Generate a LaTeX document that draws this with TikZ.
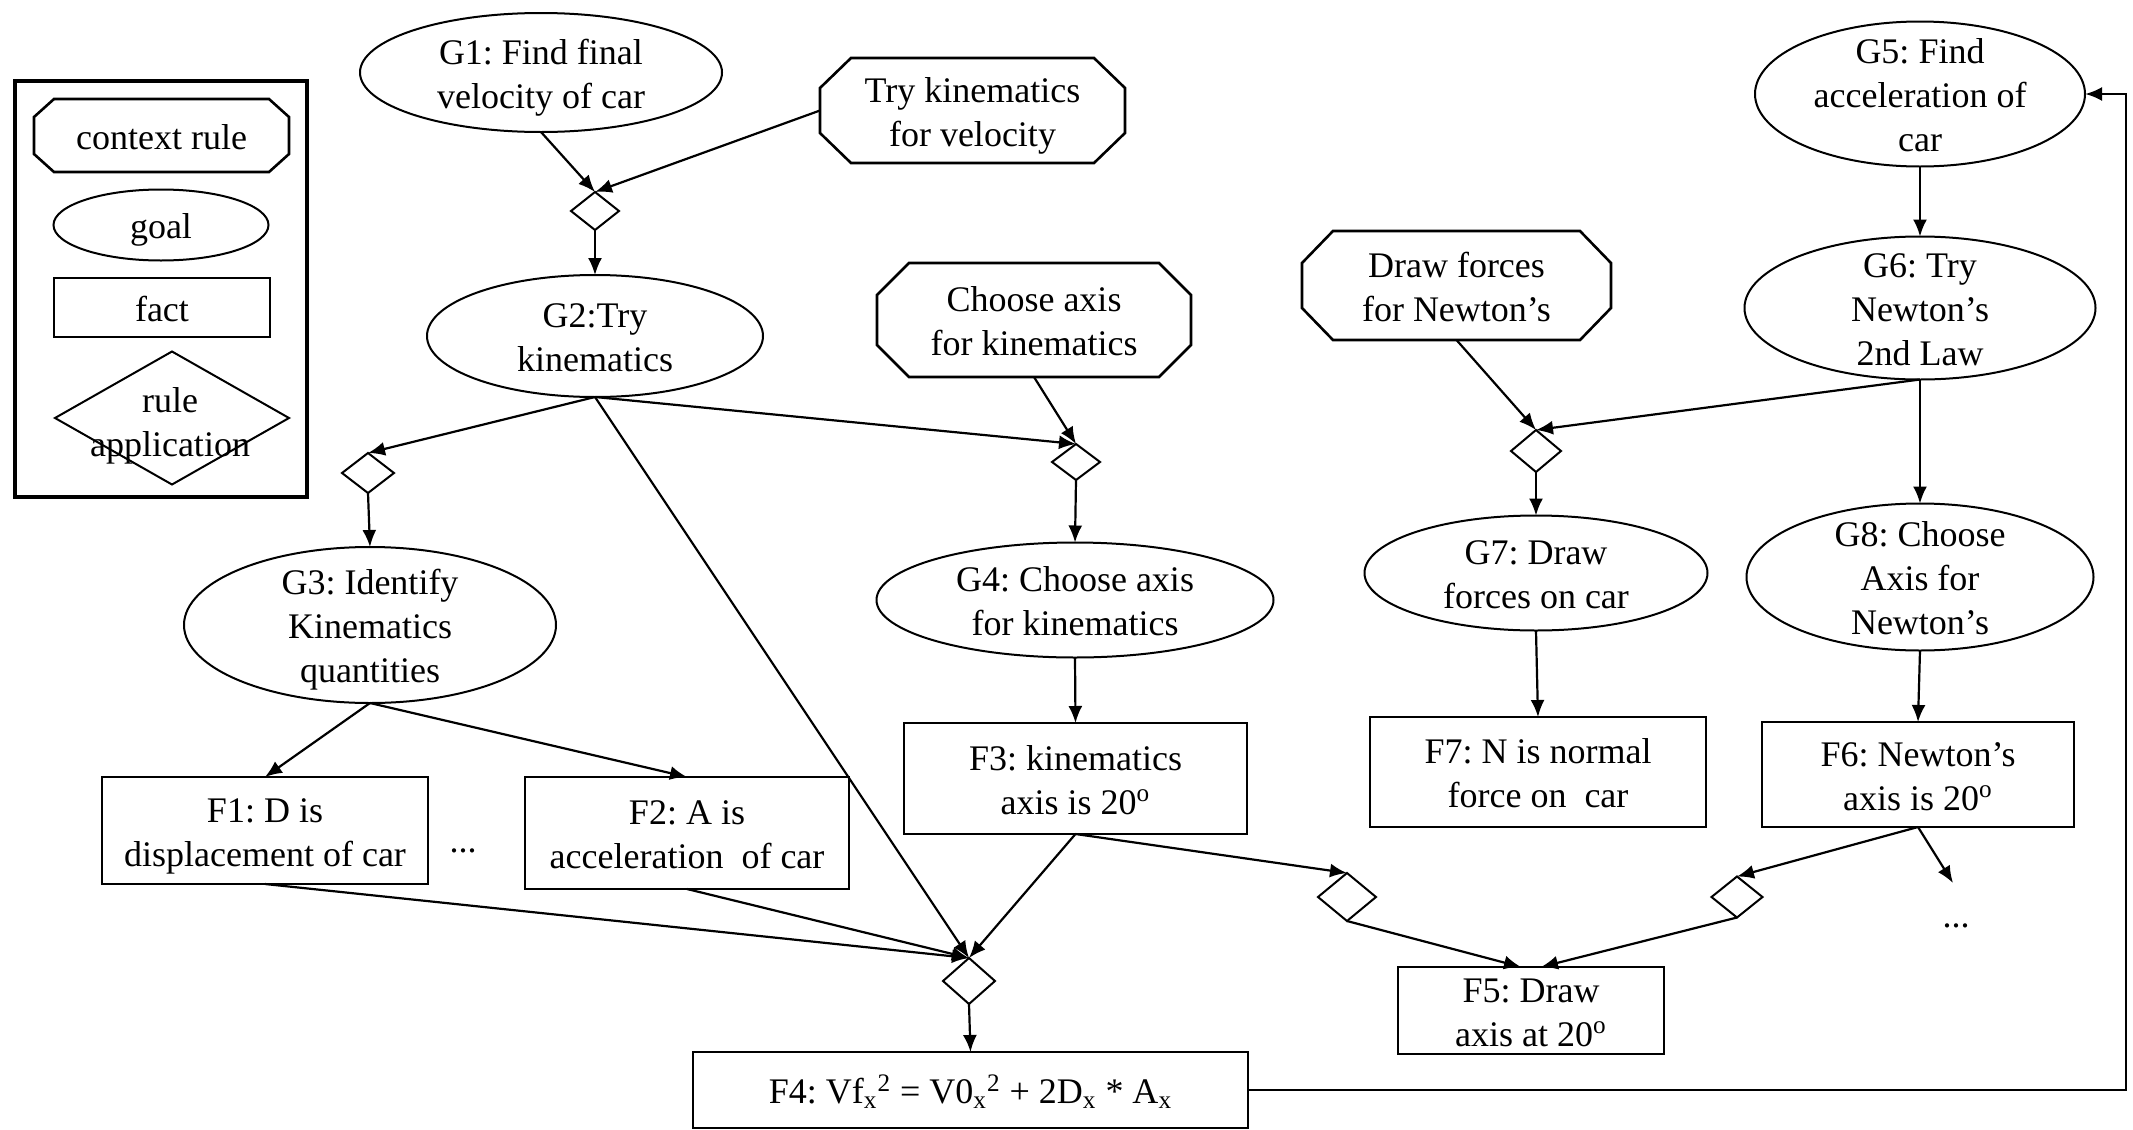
\documentclass[tikz,border=0pt]{standalone}
\usepackage{fontspec}
\setmainfont{Liberation Serif}
\usetikzlibrary{shapes.geometric,arrows.meta}
\newcommand\fz{\fontsize{18}{22}\selectfont\frenchspacing}
\newcommand\ctext[1]{\vbox to 0pt{\kern5pt\vss\hbox{\begin{tabular}{@{}c@{}}#1\end{tabular}}\vss}}
\newcommand\octo[3]{\draw[boxline] ([xshift=#2]#1.north west) -- ([xshift=-#2]#1.north east) -- ([yshift=-#3]#1.north east) -- ([yshift=#3]#1.south east) -- ([xshift=-#2]#1.south east) -- ([xshift=#2]#1.south west) -- ([yshift=#3]#1.south west) -- ([yshift=-#3]#1.north west) -- cycle;}
\begin{document}
\begin{tikzpicture}[x=0.5pt,y=-0.5pt,
  every node/.style={inner sep=0pt,outer sep=0pt,font=\fz},
  goal/.style={ellipse,draw,line width=1pt},
  fact/.style={rectangle,draw,line width=1.3pt},
  ctx/.style={rectangle},
  rapp/.style={diamond,draw,line width=1pt,minimum width=25pt,minimum height=20pt},
  conn/.style={line width=1.1pt,-{Latex[length=8.5pt,width=7pt]}},
  boxline/.style={line width=1.3pt}]
\useasboundingbox (0,0) rectangle (2133,1130);
% legend
\node[draw,line width=1.6pt,minimum width=146pt,minimum height=208pt] (leg) at (161,289) {};
\node[ctx,minimum width=127.5pt,minimum height=36.5pt] (legctx) at (161.5,135.5) {\ctext{context rule}};
\octo{legctx}{10pt}{9pt}
\node[goal,minimum width=107.5pt,minimum height=35.5pt] (leggoal) at (161,225) {\ctext{goal}};
\node[fact,minimum width=108pt,minimum height=29.5pt] (legfact) at (162,307.5) {\ctext{fact}};
\node[diamond,draw,line width=1pt,minimum width=117pt,minimum height=66.5pt] (legrule) at (172,418) {};
\node (legruletxt) at (170,421) {\ctext{rule\\application}};
% context rules
\node[ctx,minimum width=152.5pt,minimum height=52.5pt] (trykin) at (972.5,110.5) {\ctext{Try kinematics\\for velocity}};
\octo{trykin}{15.5pt}{15pt}
\node[ctx,minimum width=157pt,minimum height=57pt] (chooseax) at (1034,320) {\ctext{Choose axis\\for kinematics}};
\octo{chooseax}{16pt}{16pt}
\node[ctx,minimum width=154.5pt,minimum height=54.5pt] (drawf) at (1456.5,285.5) {\ctext{Draw forces\\for Newton’s}};
\octo{drawf}{15.5pt}{16pt}
% goals
\node[goal,minimum width=181pt,minimum height=59.5pt] (G1) at (541,72.5) {\ctext{G1: Find final\\velocity of car}};
\node[goal,minimum width=168pt,minimum height=61pt] (G2) at (595,336) {\ctext{G2:Try\\kinematics}};
\node[goal,minimum width=186pt,minimum height=78pt] (G3) at (370,625) {\ctext{G3: Identify\\Kinematics\\quantities}};
\node[goal,minimum width=198.5pt,minimum height=57.5pt] (G4) at (1075,600) {\ctext{G4: Choose axis\\for kinematics}};
\node[goal,minimum width=165pt,minimum height=72.5pt] (G5) at (1920,94) {\ctext{G5: Find\\acceleration of\\car}};
\node[goal,minimum width=175.5pt,minimum height=71.5pt] (G6) at (1920,308) {\ctext{G6: Try\\Newton’s\\2nd Law}};
\node[goal,minimum width=171.5pt,minimum height=57.5pt] (G7) at (1536,573) {\ctext{G7: Draw\\forces on car}};
\node[goal,minimum width=173.5pt,minimum height=73.5pt] (G8) at (1920,577) {\ctext{G8: Choose\\Axis for\\Newton’s}};
% facts
\node[fact,minimum width=163pt,minimum height=53.5pt] (F1) at (265,830.5) {\ctext{F1: D is\\displacement of car}};
\node[fact,minimum width=162pt,minimum height=56pt] (F2) at (687,833) {\ctext{F2: A is\\acceleration~ of car}};
\node[fact,minimum width=171.5pt,minimum height=55.5pt] (F3) at (1075.5,778.5) {\ctext{F3: kinematics\\axis is 20\textsuperscript{o}}};
\node[fact,minimum width=277.5pt,minimum height=38pt] (F4) at (970.5,1090) {\ctext{F4: Vf\textsubscript{x}\textsuperscript{2} = V0\textsubscript{x}\textsuperscript{2} + 2D\textsubscript{x} * A\textsubscript{x}}};
\node[fact,minimum width=133pt,minimum height=43.5pt] (F5) at (1531,1010.5) {\ctext{F5: Draw\\axis at 20\textsuperscript{o}}};
\node[fact,minimum width=156pt,minimum height=52.5pt] (F6) at (1918,774.5) {\ctext{F6: Newton’s\\axis is 20\textsuperscript{o}}};
\node[fact,minimum width=168pt,minimum height=55pt] (F7) at (1538,772) {\ctext{F7: N is normal\\force on~ car}};
% rule applications
\node[rapp,minimum width=24pt,minimum height=19pt] (d1) at (595,211) {};
\node[rapp,minimum width=26pt,minimum height=20pt] (d2) at (368,473) {};
\node[rapp,minimum width=24pt,minimum height=18pt] (d3) at (1076,462) {};
\node[rapp,minimum width=25pt,minimum height=21pt] (d4) at (1536,451) {};
\node[rapp,minimum width=26pt,minimum height=23pt] (d5) at (969,981) {};
\node[rapp,minimum width=29pt,minimum height=24pt] (d6) at (1347,897) {};
\node[rapp,minimum width=25.5pt,minimum height=20.5pt] (d7) at (1737,897) {};
% ellipses of omitted items
\node (dots1) at (463,851) {...};
\node (dots2) at (1956,926) {...};
\coordinate (tip) at (1953,883);
\coordinate (ret) at (2126,1090);
% connectors
\draw[conn] (G1.south) -- (d1.north);
\draw[conn] (trykin.west) -- (d1.north);
\draw[conn] (d1.south) -- (G2.north);
\draw[conn] (G2.south) -- (d2.north);
\draw[conn] (G2.south) -- (d3.north);
\draw[conn] (G2.south) -- (d5.north);
\draw[conn] (chooseax.south) -- (d3.north);
\draw[conn] (d2.south) -- (G3.north);
\draw[conn] (d3.south) -- (G4.north);
\draw[conn] (G3.south) -- (F1.north);
\draw[conn] (G3.south) -- (F2.north);
\draw[conn] (G4.south) -- (F3.north);
\draw[conn] (F1.south) -- (d5.north);
\draw[conn] (F2.south) -- (d5.north);
\draw[conn] (F3.south) -- (d5.north);
\draw[conn] (F3.south) -- (d6.north);
\draw[conn] (d5.south) -- (F4.north);
\draw[conn] (d6.south) -- ([xshift=-5pt]F5.north);
\draw[conn] (d7.south) -- ([xshift=5pt]F5.north);
\draw[conn] (F6.south) -- (d7.north);
\draw[conn] (F6.south) -- (tip);
\draw[conn] (G5.south) -- (G6.north);
\draw[conn] (drawf.south) -- (d4.north);
\draw[conn] (G6.south) -- (d4.north);
\draw[conn] (G6.south) -- (G8.north);
\draw[conn] (d4.south) -- (G7.north);
\draw[conn] (G7.south) -- (F7.north);
\draw[conn] (G8.south) -- (F6.north);
\draw[conn,line width=1.3pt] (F4.east) -- (ret) |- (G5.east);
\end{tikzpicture}
\end{document}
